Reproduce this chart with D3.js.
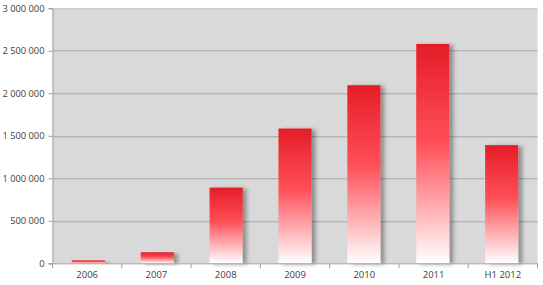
<!DOCTYPE html>
<html>
<head>
<meta charset="utf-8">
<script src="https://cdn.jsdelivr.net/npm/d3@7"></script>
<style>
  html, body { margin: 0; padding: 0; background: #ffffff; }
  svg { display: block; }
  text { font-family: "Open Sans", "DejaVu Sans", sans-serif; }
</style>
</head>
<body>
<script>
const categories = ["2006", "2007", "2008", "2009", "2010", "2011", "H1 2012"];
const values = [35000, 130000, 890000, 1585000, 2095000, 2580000, 1390000];
const yTicks = [0, 500000, 1000000, 1500000, 2000000, 2500000, 3000000];

const W = 543, H = 285;
const margin = { left: 52.5, right: 5.5, top: 8.3, bottom: 21.7 };
const iw = W - margin.left - margin.right;
const ih = H - margin.top - margin.bottom;

const svg = d3.select("body").append("svg").attr("width", W).attr("height", H);
const defs = svg.append("defs");

const grad = defs.append("linearGradient")
  .attr("id", "barGrad").attr("x1", 0).attr("y1", 0).attr("x2", 0).attr("y2", 1);
grad.append("stop").attr("offset", "0%").attr("stop-color", "#e51d27");
grad.append("stop").attr("offset", "45%").attr("stop-color", "#ff4f58");
grad.append("stop").attr("offset", "100%").attr("stop-color", "#ffffff");

const shadow = defs.append("filter").attr("id", "shadow")
  .attr("x", "-20%").attr("y", "-10%").attr("width", "160%").attr("height", "130%");
shadow.append("feGaussianBlur").attr("in", "SourceAlpha").attr("stdDeviation", 2.2).attr("result", "blur");
shadow.append("feOffset").attr("in", "blur").attr("dx", 4).attr("dy", 1).attr("result", "off");
shadow.append("feComponentTransfer").attr("in", "off").attr("result", "shade")
  .append("feFuncA").attr("type", "linear").attr("slope", 0.35);
const merge = shadow.append("feMerge");
merge.append("feMergeNode").attr("in", "shade");
merge.append("feMergeNode").attr("in", "SourceGraphic");

const g = svg.append("g").attr("transform", `translate(${margin.left},${margin.top})`);

const x = d3.scaleBand().domain(categories).range([0, iw]).paddingInner(0.52).paddingOuter(0.28);
const y = d3.scaleLinear().domain([0, 3000000]).range([ih, 0]);

// plot background
g.append("rect").attr("x", 0).attr("y", 0).attr("width", iw).attr("height", ih).attr("fill", "#d9d9d9");

// gridlines
g.append("g").selectAll("line").data(yTicks.filter(d => d > 0)).join("line")
  .attr("x1", 0).attr("x2", iw)
  .attr("y1", d => Math.round(y(d)) + 0.5).attr("y2", d => Math.round(y(d)) + 0.5)
  .attr("stroke", d => d === 3000000 ? "#c4c4c4" : "#a5a5a5").attr("stroke-width", 1);

// bars
g.append("g").selectAll("rect").data(values).join("rect")
  .attr("x", (d, i) => x(categories[i]))
  .attr("y", d => y(d))
  .attr("width", x.bandwidth())
  .attr("height", d => ih - y(d))
  .attr("fill", "url(#barGrad)")
  .attr("filter", "url(#shadow)");

// y axis
const yAxis = d3.axisLeft(y).tickValues(yTicks).tickSize(4).tickPadding(4)
  .tickFormat(d => d3.format(",")(d).replace(/,/g, " "));
const ya = g.append("g").call(yAxis);
ya.select(".domain").attr("stroke", "#a0a0a0");
ya.selectAll(".tick line").attr("stroke", "#a0a0a0");
ya.selectAll("text").attr("fill", "#404040").attr("font-size", "9.3px");

// x axis
const xa = g.append("g").attr("transform", `translate(0,${ih})`);
xa.append("line").attr("x1", -4).attr("x2", iw).attr("y1", 0.5).attr("y2", 0.5).attr("stroke", "#a0a0a0");
const boundaries = d3.range(categories.length + 1).map(i => i * iw / categories.length);
xa.selectAll("line.tk").data(boundaries).join("line").attr("class", "tk")
  .attr("x1", d => d).attr("x2", d => d).attr("y1", 0).attr("y2", 5).attr("stroke", "#a0a0a0");
xa.selectAll("text").data(categories).join("text")
  .attr("x", (d, i) => (i + 0.5) * iw / categories.length)
  .attr("y", 14.5)
  .attr("text-anchor", "middle")
  .attr("fill", "#404040").attr("font-size", "9.5px")
  .text(d => d);
</script>
</body>
</html>
